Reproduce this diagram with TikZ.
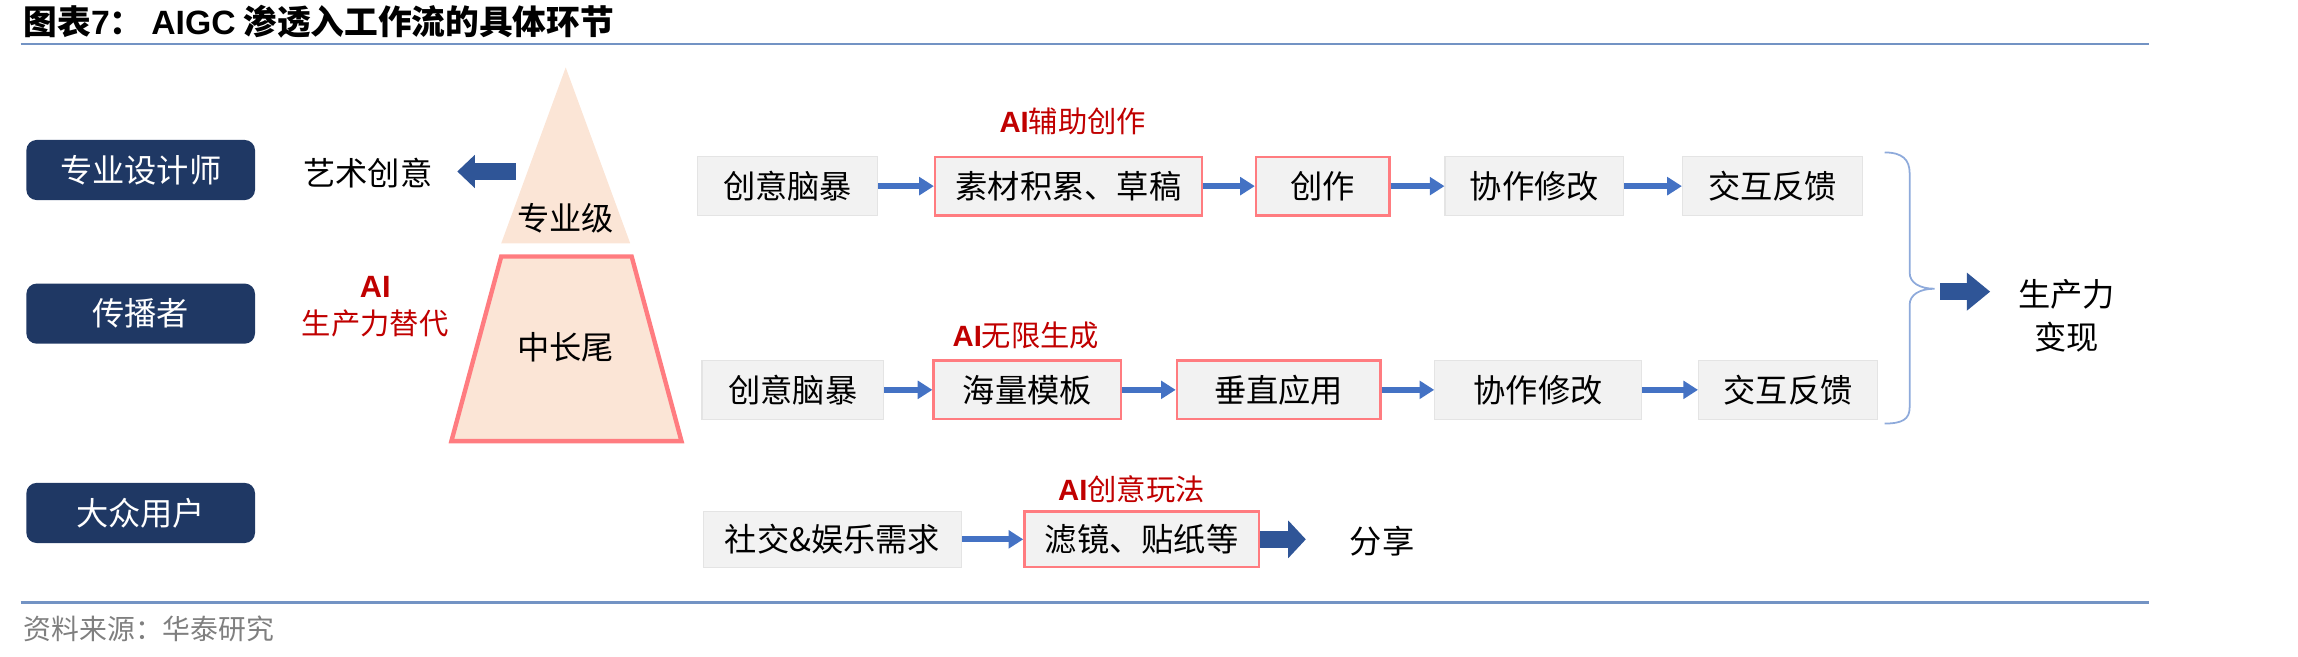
\documentclass[tikz,border=0pt]{standalone}
\usepackage{fontspec}
\setmainfont{Noto Sans CJK SC}
\newfontfamily\arialf{Liberation Sans}
\usetikzlibrary{arrows.meta}
\definecolor{navy}{HTML}{1F3864}
\definecolor{darkarrow}{HTML}{2F5597}
\definecolor{flowblue}{HTML}{4472C4}
\definecolor{boxgray}{HTML}{F2F2F2}
\definecolor{boxedge}{HTML}{E4E4E4}
\definecolor{redline}{HTML}{FF7C80}
\definecolor{peach}{HTML}{FBE5D6}
\definecolor{redtext}{HTML}{C00000}
\definecolor{rulecol}{HTML}{7393C4}
\definecolor{bracecol}{HTML}{8EAADB}
\definecolor{srcgray}{HTML}{7F7F7F}
\tikzset{
  fs/.style={font=\fontsize{#1}{#1}\selectfont},
  navybox/.style={fill=navy, rounded corners=7pt, minimum width=156pt, minimum height=41pt,
    text=white, inner sep=0pt, fs=22},
  graybox/.style={fill=boxgray, draw=boxedge, line width=0.8pt, minimum height=40pt, inner sep=0pt, fs=22},
  redbox/.style={fill=boxgray, draw=redline, line width=1.6pt, minimum height=40pt, inner sep=0pt, fs=22},
  flow/.style={draw=flowblue, line width=4pt, -{Triangle[length=10pt,width=12pt]}},
  bigarrow/.style={draw=darkarrow, line width=12pt, -{Triangle[length=14pt,width=25pt]}},
  plain/.style={inner sep=0pt, fs=22},
  redlabel/.style={inner sep=0pt, text=redtext, fs=20},
}
\newcommand{\ailab}{{\arialf\bfseries AI}}
\begin{document}
\begin{tikzpicture}[x=1pt,y=-1pt]
\useasboundingbox (0,0) rectangle (1568,448);
% title and rules
\node[anchor=west, inner sep=0pt, fs=23] (title) at (16,15) {\bfseries 图表{\arialf\bfseries 7}： {\arialf\bfseries AIGC} 渗透入工作流的具体环节};
\draw[rulecol, line width=1.6pt] (14,30) -- (1466,30);
\draw[rulecol, line width=1.6pt] (14,411) -- (1466,411);
\node[anchor=west, inner sep=0pt, text=srcgray, fs=19] (src) at (16,429) {资料来源：华泰研究};

% left boxes
\node[navybox] (pro) at (96,116) {专业设计师};
\node[navybox] (spr) at (96,214) {传播者};
\node[navybox] (pub) at (96,350) {大众用户};

\node[plain] (art) at (251,118) {艺术创意};
\coordinate (artfrom) at (352,117);
\coordinate (artto) at (312,117);
\draw[draw=darkarrow, line width=11pt, -{Triangle[length=12pt,width=22pt]}] (artfrom) -- (artto);
\node[redlabel, fs=21] (ai1) at (256,196) {\ailab};
\node[redlabel] (ai1b) at (256,221) {生产力替代};

% pyramid
\fill[peach] (386,46) -- (430,166) -- (342,166) -- cycle;
\filldraw[fill=peach, draw=redline, line width=3pt, line join=miter] (342,175) -- (431,175) -- (465,301) -- (308,301) -- cycle;
\node[plain, fs=22] (lvl1) at (386,149) {专业级};
\node[plain, fs=22] (lvl2) at (386,237) {中长尾};

% row 1
\node[redlabel] (l1) at (732,83) {\ailab 辅助创作};
\node[graybox, minimum width=123pt] (b11) at (537.5,127) {创意脑暴};
\node[redbox, minimum width=182pt] (b12) at (729,127) {素材积累、草稿};
\node[redbox, minimum width=91pt] (b13) at (902.5,127) {创作};
\node[graybox, minimum width=122pt] (b14) at (1047,127) {协作修改};
\node[graybox, minimum width=123pt] (b15) at (1209.5,127) {交互反馈};
\draw[flow] (b11) -- (b12);
\draw[flow] (b12) -- (b13);
\draw[flow] (b13) -- (b14);
\draw[flow] (b14) -- (b15);

% row 2
\node[redlabel] (l2) at (700,229) {\ailab 无限生成};
\node[graybox, minimum width=124pt] (b21) at (541,266) {创意脑暴};
\node[redbox, minimum width=128pt] (b22) at (701,266) {海量模板};
\node[redbox, minimum width=139pt] (b23) at (872.5,266) {垂直应用};
\node[graybox, minimum width=141pt] (b24) at (1049.5,266) {协作修改};
\node[graybox, minimum width=122pt] (b25) at (1220,266) {交互反馈};
\draw[flow] (b21) -- (b22);
\draw[flow] (b22) -- (b23);
\draw[flow] (b23) -- (b24);
\draw[flow] (b24) -- (b25);

% brace and result
\draw[bracecol, line width=1.2pt] (1286,104) .. controls (1298,104) and (1303,109) .. (1303,118) -- (1303,186)
  .. controls (1303,193) and (1310,197) .. (1320,197)
  .. controls (1310,197) and (1303,201) .. (1303,208) -- (1303,278)
  .. controls (1303,286) and (1298,289) .. (1286,289);
\node[plain, fs=22] (res1) at (1410,201) {生产力};
\node[plain, fs=22] (res2) at (1410,230) {变现};
\coordinate (brtip) at (1324,199);
\coordinate (brend) at (1358,199);
\draw[bigarrow, -{Triangle[length=16pt,width=25pt]}] (brtip) -- (brend);

% row 3
\node[redlabel] (l3) at (772,334) {\ailab 创意玩法};
\node[graybox, minimum width=176pt, minimum height=38pt] (b31) at (568,368) {社交\&娱乐需求};
\node[redbox, minimum width=160pt, minimum height=38pt] (b32) at (779,368) {滤镜、贴纸等};
\node[plain] (share) at (943,369) {分享};
\coordinate (shareto) at (891,368);
\draw[flow] (b31) -- (b32);
\draw[bigarrow, -{Triangle[length=12pt,width=25pt]}] (b32.east) -- (shareto);
\end{tikzpicture}
\end{document}
